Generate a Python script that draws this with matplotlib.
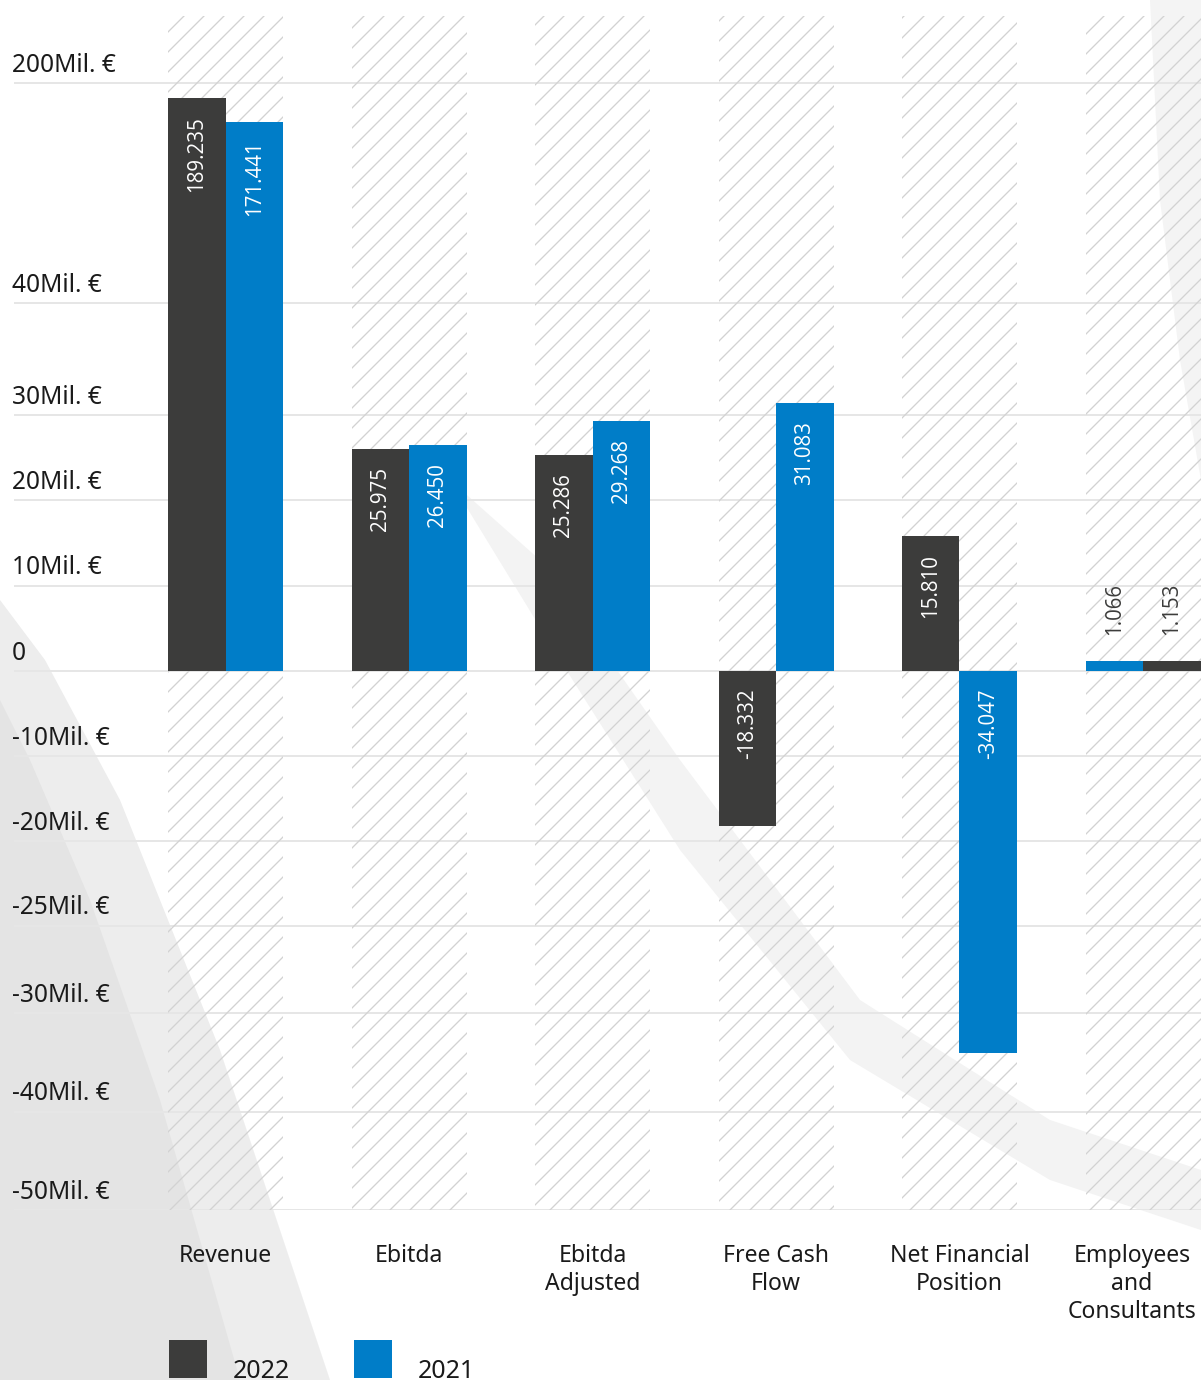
import numpy as np
import matplotlib
matplotlib.use("Agg")
import matplotlib.pyplot as plt
from matplotlib.patches import Rectangle, Polygon
import matplotlib.transforms as mtransforms

# ---------------- data ----------------
categories = ["Revenue", "Ebitda", "Ebitda\nAdjusted", "Free Cash\nFlow",
              "Net Financial\nPosition", "Employees\nand\nConsultants"]
values_2022 = [189.235, 25.975, 25.286, -18.332, 15.810, 1.153]
values_2021 = [171.441, 26.450, 29.268, 31.083, -34.047, 1.066]
labels_2022 = ["189.235", "25.975", "25.286", "-18.332", "15.810", "1.153"]
labels_2021 = ["171.441", "26.450", "29.268", "31.083", "-34.047", "1.066"]
left_series = ["2022", "2022", "2022", "2022", "2022", "2021"]
series_names = ["2022", "2021"]
tick_values = [-50, -40, -30, -25, -20, -10, 0, 10, 20, 30, 40, 200]
tick_labels = ["-50Mil. €", "-40Mil. €", "-30Mil. €", "-25Mil. €", "-20Mil. €",
               "-10Mil. €", "0", "10Mil. €", "20Mil. €", "30Mil. €", "40Mil. €",
               "200Mil. €"]

# ---------------- style / layout ----------------
DARK = "#3c3c3b"
BLUE = "#007dc8"
GRID = "#e6e6e6"
HATCH = "#d2d2d2"
TEXT = "#1a1a1a"
W, H, DPI = 1201, 1380, 120
PT = 72.0 / DPI  # points per pixel

# pixel rows of the tick gridlines (non-linear axis of the original)
tick_px = [1210, 1111.5, 1012.5, 925.5, 840.5, 756, 670.5, 585.5, 500, 415, 303, 83]

TV = np.array(tick_values, float)
TP = -np.array(tick_px, float)


def _pw(v, xs, ys):
    v = np.asarray(v, float)
    out = np.interp(v, xs, ys)
    s0 = (ys[1] - ys[0]) / (xs[1] - xs[0])
    s1 = (ys[-1] - ys[-2]) / (xs[-1] - xs[-2])
    out = np.where(v < xs[0], ys[0] + (v - xs[0]) * s0, out)
    out = np.where(v > xs[-1], ys[-1] + (v - xs[-1]) * s1, out)
    return out


def forward(v):
    return _pw(v, TV, TP)


def inverse(p):
    return _pw(p, TP, TV)


plt.rcParams["hatch.linewidth"] = 1.3 * PT
plt.rcParams["font.family"] = ["Noto Sans", "DejaVu Sans"]

fig = plt.figure(figsize=(W / DPI, H / DPI), dpi=DPI)
fig.patch.set_facecolor("white")


def fx(px):
    return px / W


def fy(py):
    return 1 - py / H


# soft background shapes (decorative)
bg_shapes = [
    ([(0, 600), (45, 660), (120, 800), (220, 1050), (330, 1380), (0, 1380)], "#ededed"),
    ([(0, 700), (30, 760), (90, 900), (160, 1100), (240, 1380), (0, 1380)], "#e4e4e4"),
    ([(450, 480), (540, 560), (680, 760), (860, 1000), (1050, 1120), (1201, 1170),
      (1201, 1230), (1050, 1180), (850, 1060), (680, 850), (560, 660)], "#f3f3f3"),
    ([(1150, 0), (1201, 0), (1201, 480), (1180, 360), (1160, 200)], "#f4f4f4"),
]
for pts, col in bg_shapes:
    fig.patches.append(Polygon([(fx(x), fy(y)) for x, y in pts], closed=True,
                               transform=fig.transFigure, facecolor=col,
                               edgecolor="none", zorder=-5))

ax = fig.add_axes([0, (H - 1210) / H, 1, 1210 / H])
ax.patch.set_facecolor("none")
ax.set_yscale("function", functions=(forward, inverse))

n = len(categories)
centers = np.arange(n)
spacing = 183.5
c0 = 225.5
ax.set_xlim(-c0 / spacing, (W - c0) / spacing)
ax.set_ylim(-50, float(inverse(0.0)))

bw = 57.5 / spacing
gw = 2 * bw

blend_xdata = mtransforms.blended_transform_factory(ax.transData, ax.transAxes)
blend_ydata = mtransforms.blended_transform_factory(ax.transAxes, ax.transData)

# hatched column backgrounds
for c in centers:
    ax.add_patch(Rectangle((c - gw / 2, 0), gw, 1 - 16 / 1210, transform=blend_xdata,
                           facecolor="none", edgecolor=HATCH, hatch="//", lw=0, zorder=1))

# gridlines
for v in tick_values:
    ax.axhline(v, xmin=15 / W, xmax=1, color=GRID, lw=2 * PT, zorder=0.5)

# tick labels
for v, lab in zip(tick_values, tick_labels):
    ax.annotate(lab, xy=(12 / W, v), xycoords=blend_ydata, xytext=(0, 11 * PT),
                textcoords="offset points", ha="left", va="baseline",
                fontsize=24.5 * PT, color=TEXT)

series = {"2022": (values_2022, labels_2022, DARK),
          "2021": (values_2021, labels_2021, BLUE)}

for i in range(n):
    first = left_series[i]
    second = [s for s in series_names if s != first][0]
    for s, off in ((first, -bw / 2), (second, bw / 2)):
        vals, labs, col = series[s]
        v = vals[i]
        x = centers[i] + off
        ax.bar(x, v, bw, color=col, zorder=3, linewidth=0)
        top = max(v, 0)
        hpx = abs(float(forward(v) - forward(0)))
        if hpx > 80:
            ax.annotate(labs[i], xy=(x, top), xytext=(0, -18 * PT),
                        textcoords="offset points", rotation=90, ha="center",
                        va="top", color="white", fontsize=20.5 * PT,
                        family=["Open Sans", "DejaVu Sans"], zorder=4)
        else:
            ax.annotate(labs[i], xy=(x, top), xytext=(0, 26 * PT),
                        textcoords="offset points", rotation=90, ha="center",
                        va="bottom", color=DARK, fontsize=20.5 * PT,
                        family=["Open Sans", "DejaVu Sans"], zorder=4)

# category labels (last one nudged left so it stays inside the picture)
for i, lab in enumerate(categories):
    dx = -11 if i == n - 1 else 0
    ax.annotate(lab, xy=(centers[i], 0), xycoords=blend_xdata,
                xytext=(dx * PT, -34 * PT), textcoords="offset points",
                ha="center", va="top", fontsize=23 * PT, color=TEXT,
                linespacing=1.22)

ax.set_xticks([])
ax.set_yticks([])
for sp in ax.spines.values():
    sp.set_visible(False)

# legend
leg = [("2022", DARK, 169, 233), ("2021", BLUE, 354, 418)]
for name, col, xs, xt in leg:
    fig.patches.append(Rectangle((fx(xs), fy(1378)), fx(38), 38 / H,
                                 transform=fig.transFigure, facecolor=col,
                                 edgecolor="none", zorder=5))
    fig.text(fx(xt), fy(1378), name, ha="left", va="baseline",
             fontsize=25 * PT, color=TEXT)

fig.savefig("out.png", dpi=DPI)
